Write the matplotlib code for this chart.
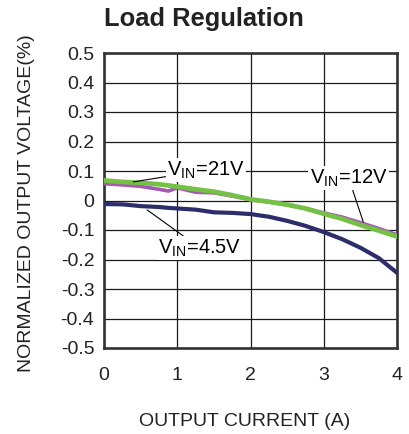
#!/usr/bin/env python3
"""Load regulation curve: normalized output voltage vs output current."""
import matplotlib
matplotlib.use("Agg")
import matplotlib.pyplot as plt

# output current (A)
current = [0.0, 0.25, 0.5, 0.75, 0.88, 1.0, 1.25, 1.5, 1.75, 2.0,
           2.25, 2.5, 2.75, 3.0, 3.25, 3.5, 3.75, 4.0]
# normalized output voltage (%)
vin_21 = [0.068, 0.063, 0.060, 0.055, 0.051, 0.047, 0.038, 0.030, 0.018, 0.004,
          -0.004, -0.014, -0.027, -0.045, -0.062, -0.083, -0.102, -0.122]
vin_12 = [0.057, 0.053, 0.048, 0.038, 0.032, 0.043, 0.028, 0.026, 0.015, 0.003,
          -0.005, -0.015, -0.027, -0.042, -0.056, -0.075, -0.095, -0.116]
vin_4p5 = [-0.012, -0.013, -0.019, -0.022, -0.025, -0.027, -0.031, -0.040, -0.042, -0.046,
           -0.055, -0.069, -0.086, -0.107, -0.131, -0.160, -0.195, -0.245]

x_ticks = [0, 1, 2, 3, 4]
y_ticks = [0.5, 0.4, 0.3, 0.2, 0.1, 0, -0.1, -0.2, -0.3, -0.4, -0.5]
y_tick_labels = ["0.5", "0.4", "0.3", "0.2", "0.1", "0", "-0.1", "-0.2", "-0.3", "-0.4", "-0.5"]

plt.rcParams["font.family"] = ["Liberation Sans", "DejaVu Sans"]
plt.rcParams["mathtext.fontset"] = "custom"
plt.rcParams["mathtext.rm"] = "Liberation Sans"

W, H = 409, 434
fig = plt.figure(figsize=(W / 100, H / 100), dpi=100)
ax = fig.add_axes([104 / W, 1 - 348 / H, 293 / W, 295 / H])

ax.plot(current, vin_12, color="#a558b4", lw=2.6, zorder=3, solid_joinstyle="round")
ax.plot(current, vin_21, color="#74c146", lw=3.4, zorder=4, solid_joinstyle="round")
ax.plot(current, vin_4p5, color="#2c2d6b", lw=3.0, zorder=3, solid_joinstyle="round")

ax.set_xlim(0, 4)
ax.set_ylim(-0.5, 0.5)
ax.set_xticks(x_ticks)
ax.set_yticks(y_ticks)
ax.set_yticklabels(y_tick_labels)
ax.tick_params(axis="both", length=0, labelsize=14, colors="#222222")
ax.tick_params(axis="x", pad=14)
ax.tick_params(axis="y", pad=7)
ax.grid(True, color="#1a1a1a", lw=0.9)
ax.set_axisbelow(True)
for sp in ax.spines.values():
    sp.set_color("#333333")
    sp.set_linewidth(1.9)

box = dict(facecolor="white", edgecolor="none", pad=1.0)
leader = dict(arrowstyle="-", color="black", lw=0.8, shrinkA=0, shrinkB=0)
ax.annotate(r"V$_{\mathregular{IN}}$=21V", xy=(0.40, 0.063), xytext=(1.39, 0.103),
            fontsize=14.5, ha="center", va="center", bbox=box, arrowprops=leader, zorder=6)
ax.annotate(r"V$_{\mathregular{IN}}$=12V", xy=(3.54, -0.073), xytext=(3.34, 0.076),
            fontsize=14.5, ha="center", va="center", bbox=box, arrowprops=leader, zorder=6)
ax.annotate(r"V$_{\mathregular{IN}}$=4.5V", xy=(0.59, -0.032), xytext=(1.31, -0.161),
            fontsize=14.5, ha="center", va="center", bbox=box, arrowprops=leader, zorder=6)

fig.text(204 / W, 1 - 26 / H, "Load Regulation", fontsize=18.4, fontweight="bold",
         ha="center", va="baseline", color="#222222")
fig.text(27 / W, 1 - 203 / H, "NORMALIZED OUTPUT VOLTAGE(%)", fontsize=14,
         rotation=90, ha="center", va="center", color="#222222")
fig.text(245 / W, 1 - 421 / H, "OUTPUT CURRENT (A)", fontsize=14,
         ha="center", va="center", color="#222222")

fig.savefig("out.png", dpi=100)
